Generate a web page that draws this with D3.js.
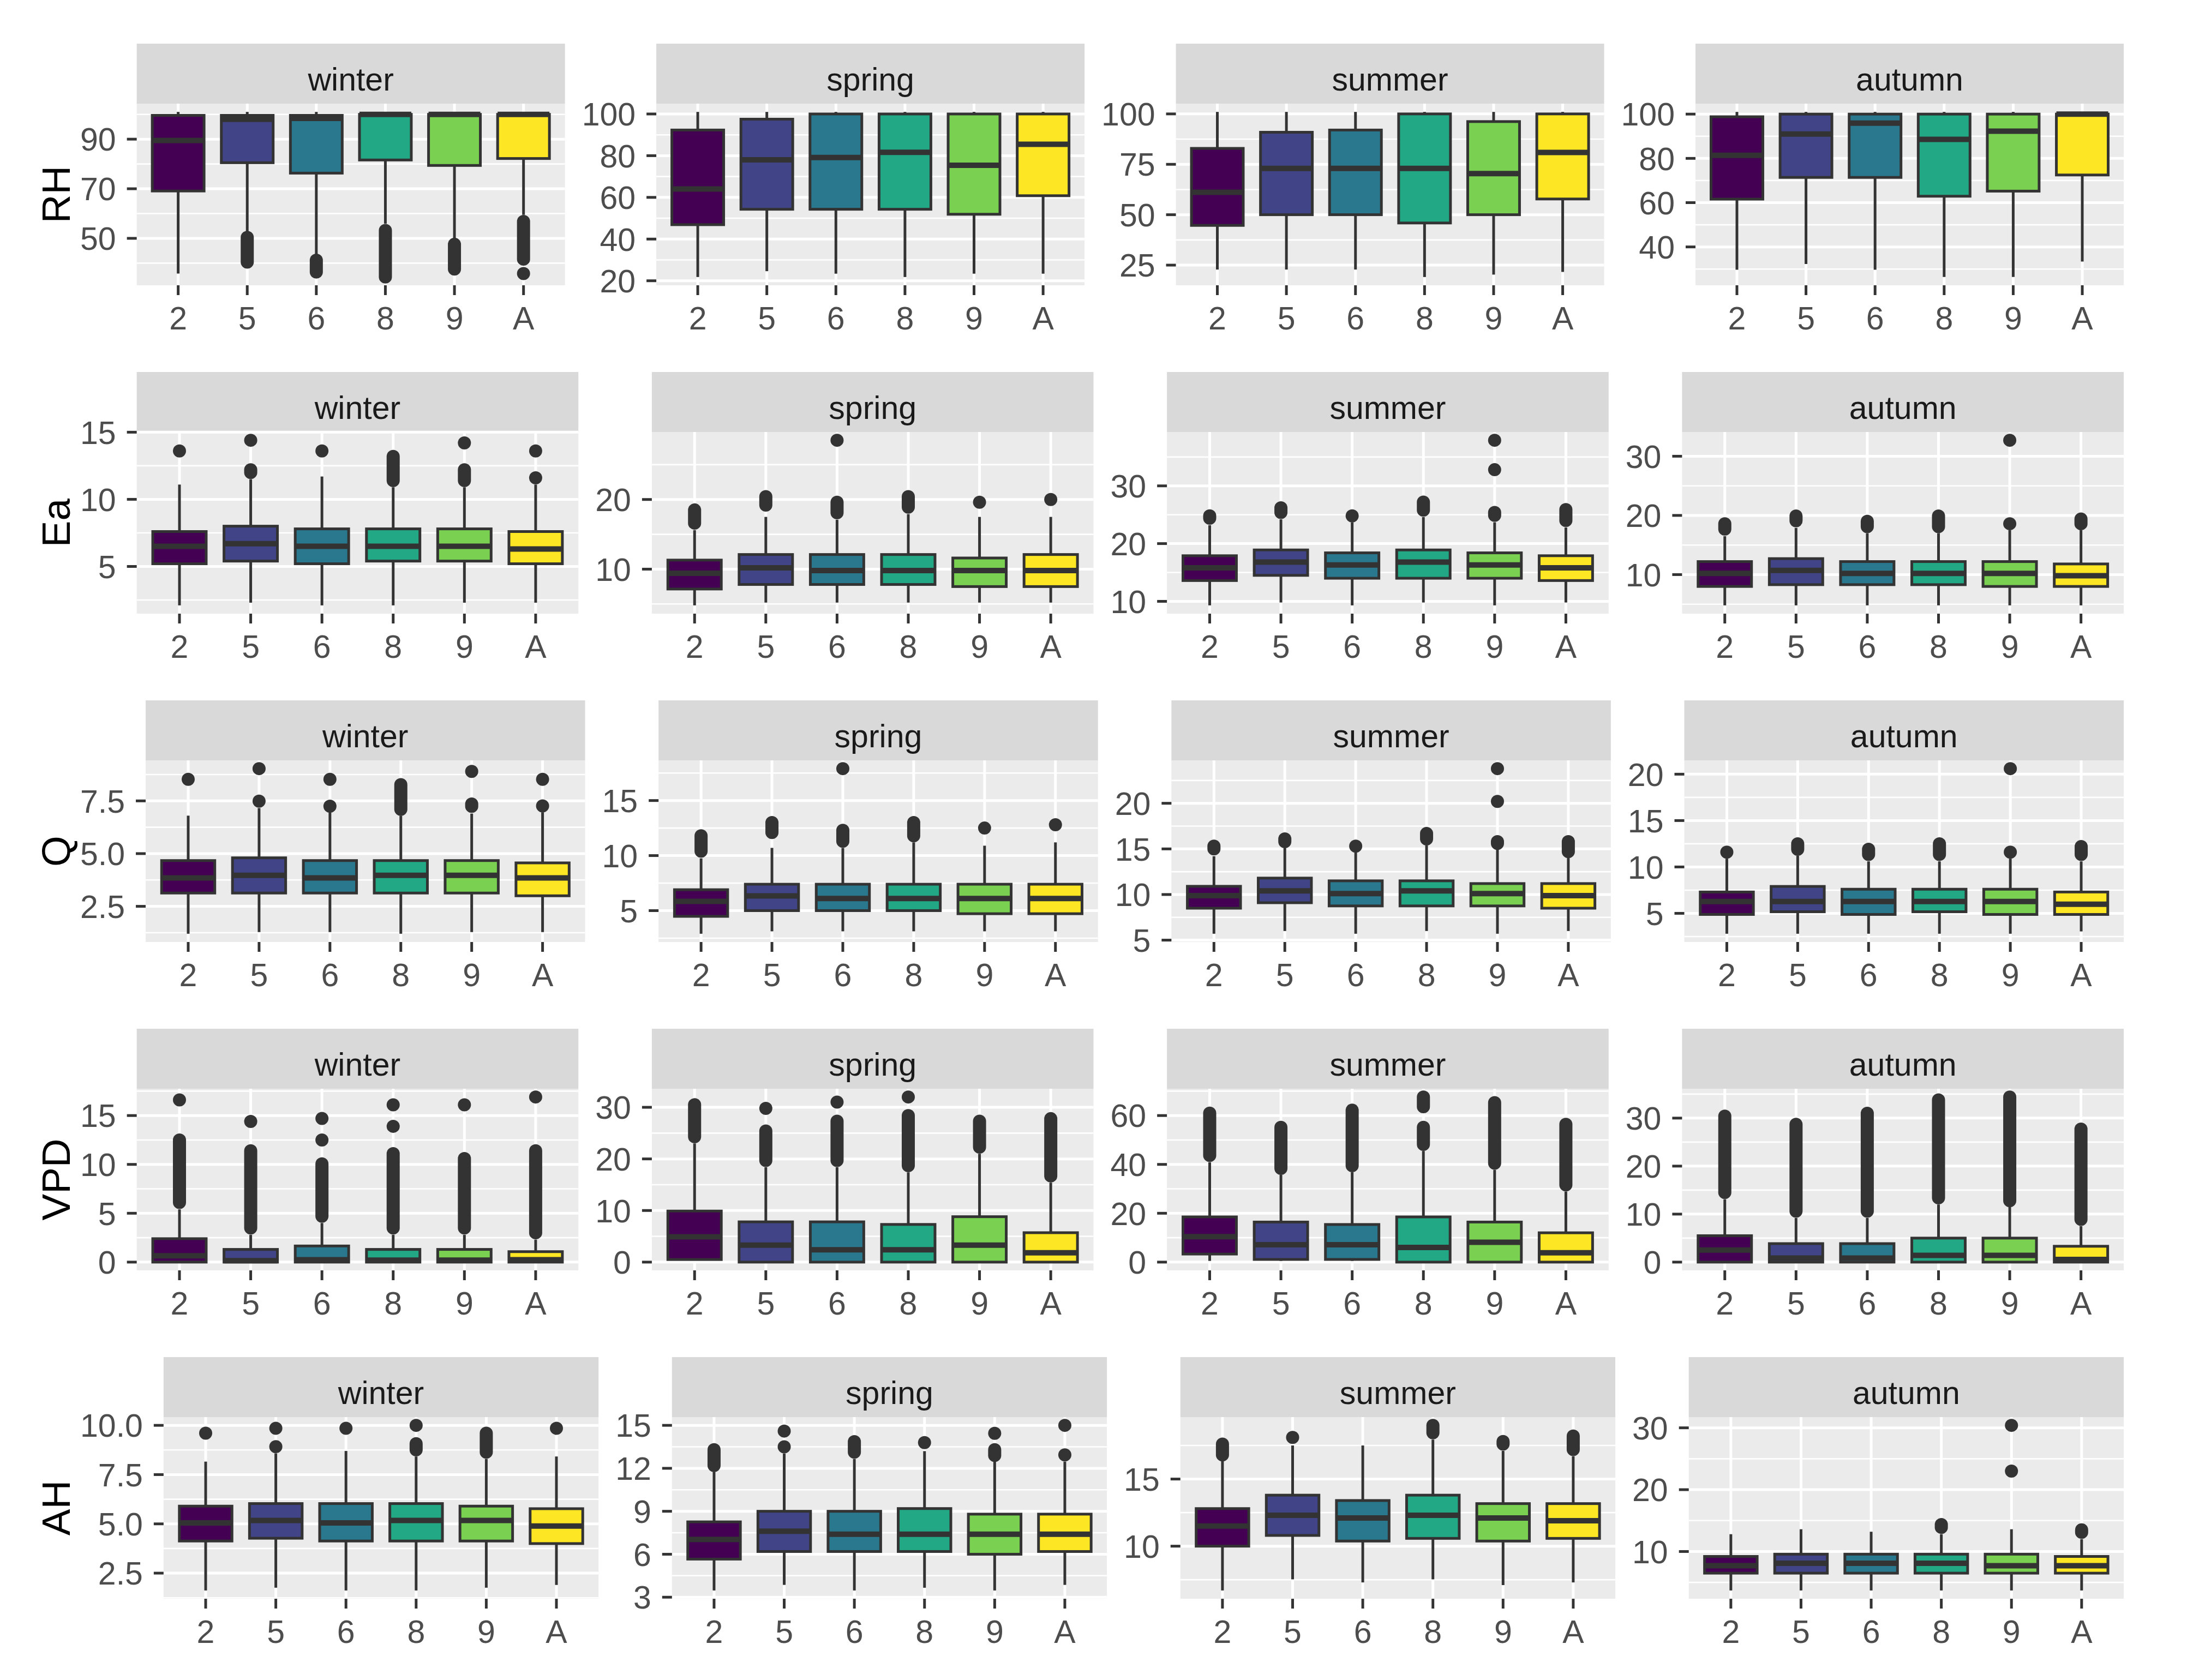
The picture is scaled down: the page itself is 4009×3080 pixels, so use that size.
<!DOCTYPE html>
<html><head><meta charset="utf-8">
<script src="https://cdn.jsdelivr.net/npm/d3@7"></script>
<style>body{margin:0;background:#fff} svg{display:block}</style>
</head><body>
<svg id="chart" width="4009" height="3080"></svg>
<script>
const seasons = ["winter","spring","summer","autumn"];
const sites = ["2","5","6","8","9","A"];
const variables = ["RH","Ea","Q","VPD","AH"];
const siteColors = ["#440154","#414487","#2A788E","#22A884","#7AD151","#FDE725"];

// Box statistics per season (winter, spring, summer, autumn), per site (2,5,6,8,9,A):
// [lower whisker, Q1, median, Q3, upper whisker]
const RH_stats = [
 [[35.8,69.1,89.5,99.6,101],[52.5,80.5,98.0,99.6,101],[43.5,76.3,98.4,99.6,101],[55.9,81.6,100,100,101],[50.2,79.4,100,100,101],[59.5,82.2,100,100,101]],
 [[21.8,46.9,64.0,92.3,101],[24.6,54.3,78.0,97.5,101],[23.4,54.3,79.1,100,101],[21.8,54.3,81.6,100,101],[23.4,51.9,75.4,100,101],[23.4,60.8,85.5,100,101]],
 [[22.8,44.7,61.1,82.9,101],[22.8,50.0,73.0,90.9,101],[22.8,50.0,73.0,92.0,101],[19.1,45.9,73.0,100,101],[20.3,50.0,70.4,96.2,101],[21.6,57.8,80.9,100,101]],
 [[29.7,61.6,81.4,98.8,101],[32.3,71.4,91.0,100,101],[29.7,71.4,95.9,100,101],[26.4,62.9,88.6,100,101],[26.4,65.2,92.3,100,101],[33.4,72.5,100,100,101]]
];
// Outliers: a number is a single point, a pair [high, low] is a dense run of points
const RH_outliers = [
 [[],[[50.4,40.4]],[[41.2,36.4]],[[53.2,34.4]],[[47.6,37.6]],[[56.8,41.6],35.8]],
 [[],[],[],[],[],[]],
 [[],[],[],[],[],[]],
 [[],[],[],[],[],[]]
];
const RH_ticks = [["50","70","90"],["20","40","60","80","100"],["25","50","75","100"],["40","60","80","100"]];

const Ea_stats = [
 [[2.1,5.2,6.5,7.6,11.1],[2.3,5.4,6.7,8.0,11.5],[2.1,5.2,6.5,7.8,11.7],[2.1,5.4,6.5,7.8,10.9],[2.3,5.4,6.5,7.8,10.9],[2.3,5.2,6.3,7.6,11.1]],
 [[4.8,7.15,9.4,11.3,15.6],[5.2,7.8,10.2,12.1,17.5],[5.2,7.8,9.8,12.1,17.1],[5.2,7.8,9.8,12.1,17.9],[5.2,7.5,9.8,11.6,17.5],[5.2,7.5,9.8,12.1,17.5]],
 [[9.3,13.6,15.8,17.9,23.2],[9.8,14.5,16.8,18.9,24.2],[9.3,14.0,16.3,18.4,23.7],[9.8,14.0,16.8,18.9,24.6],[9.3,14.0,16.3,18.4,23.7],[9.8,13.6,15.8,17.9,22.8]],
 [[4.8,8.0,10.2,12.2,16.5],[4.8,8.3,10.7,12.7,17.9],[4.8,8.3,10.2,12.2,17.0],[4.8,8.3,10.2,12.2,17.0],[4.8,8.0,10.2,12.2,17.5],[4.8,8.0,9.8,11.8,17.5]]
];
const Ea_outliers = [
 [[13.6],[[12.2,12.0],14.4],[13.6],[[13.2,11.4]],[[12.2,11.4],14.2],[11.6,13.6]],
 [[[18.5,16.6]],[[20.4,19.2]],[[19.6,18.1],28.5],[[20.4,18.9]],[19.6],[20.0]],
 [[[24.8,24.4]],[[26.2,25.4]],[24.8],[[27.2,25.8]],[[25.4,24.9],32.8,37.9],[[25.9,24.0]]],
 [[[18.6,17.7]],[[19.9,19.1]],[[19.0,18.1]],[[19.9,18.1]],[18.6,32.7],[[19.4,18.6]]]
];
const Ea_ticks = [["5","10","15"],["10","20"],["10","20","30"],["10","20","30"]];

const Q_stats = [
 [[1.2,3.13,3.85,4.67,6.8],[1.28,3.13,3.97,4.8,7.16],[1.28,3.13,3.85,4.67,6.96],[1.2,3.13,3.97,4.67,6.8],[1.28,3.13,3.97,4.67,6.9],[1.28,3.0,3.85,4.56,6.96]],
 [[2.9,4.48,5.84,6.9,9.75],[3.12,5.0,6.34,7.4,10.7],[3.12,5.0,6.1,7.4,10.7],[3.12,5.0,6.1,7.4,11.2],[3.12,4.72,6.1,7.4,10.9],[3.12,4.72,6.1,7.4,11.2]],
 [[5.7,8.5,9.87,10.9,14.2],[6.0,9.1,10.4,11.8,15.1],[5.7,8.75,10.1,11.5,14.6],[6.0,8.75,10.4,11.5,15.4],[5.7,8.75,10.1,11.2,14.9],[6.0,8.5,9.87,11.2,14.0]],
 [[2.8,4.88,6.27,7.3,10.9],[2.8,5.17,6.27,7.9,11.2],[2.8,4.88,6.27,7.6,10.6],[2.8,5.17,6.27,7.6,10.6],[2.8,4.88,6.27,7.6,10.9],[3.05,4.88,5.98,7.3,10.6]]
];
const Q_outliers = [
 [[8.52],[7.49,9.03],[7.25,8.52],[[8.27,7.1]],[[7.35,7.24],8.9],[7.26,8.52]],
 [[[11.8,10.4]],[[13.0,12.1]],[[12.3,11.3],17.9],[[13.0,11.8]],[12.5],[12.8]],
 [[[15.3,15.0]],[[16.1,15.8]],[15.3],[[16.7,16.1]],[[15.8,15.6],20.2,23.8],[[15.8,14.7]]],
 [[11.6],[[12.5,11.9]],[[11.9,11.35]],[[12.5,11.35]],[11.6,20.6],[[12.2,11.35]]]
];
const Q_ticks = [["2.5","5.0","7.5"],["5","10","15"],["5","10","15","20"],["5","10","15","20"]];

const VPD_stats = [
 [[0,0,0.65,2.4,5.4],[0,0,0.15,1.3,2.8],[0,0,0.24,1.65,4.0],[0,0,0.2,1.3,2.8],[0,0,0.2,1.3,2.8],[0,0,0.24,1.07,2.3]],
 [[0.3,0.5,4.9,9.9,23.0],[0,0,3.3,7.8,18.4],[0,0,2.4,7.8,18.4],[0,0,2.4,7.3,17.4],[0,0,3.3,8.8,21.0],[0,0,1.8,5.7,15.4]],
 [[0.5,3.3,10.4,18.5,40.9],[0.5,1.1,7.1,16.4,35.7],[0.5,1.1,7.1,15.4,36.8],[0,0,6.0,18.5,45.5],[0,0,8.1,16.4,37.8],[0,0,3.8,12.0,28.9]],
 [[0,0,2.5,5.5,13.1],[0,0,0.85,3.85,9.2],[0,0,0.85,3.85,9.2],[0,0,1.4,5.0,12.0],[0,0,1.4,5.0,11.5],[0,0,0.55,3.3,7.5]]
];
const VPD_outliers = [
 [[[12.5,6.1],16.6],[[11.4,3.5],14.4],[[10.05,4.7],12.5,14.7],[[11.1,3.5],13.9,16.1],[[10.6,3.5],16.1],[[11.4,3.0],16.9]],
 [[[30.5,24.3]],[[25.4,19.7],29.8],[[27.3,19.7],31.0],[[28.4,18.7],32.0],[[27.3,22.3]],[[27.8,16.7]]],
 [[[61.0,43.7]],[[55.2,38.4]],[[62.2,39.5]],[[67.6,63.6],[55.2,48.2]],[[65.3,40.5]],[[56.4,31.6]]],
 [[[30.4,14.5]],[[28.7,10.6]],[[31.0,10.6]],[[33.8,13.4]],[[34.4,12.8]],[[27.7,8.9]]]
];
const VPD_ticks = [["0","5","10","15"],["0","10","20","30"],["0","20","40","60"],["0","10","20","30"]];

const AH_stats = [
 [[1.62,4.13,5.05,5.9,8.16],[1.76,4.27,5.17,6.03,8.58],[1.62,4.13,5.05,6.03,8.7],[1.62,4.13,5.17,6.03,8.42],[1.76,4.13,5.17,5.9,8.3],[1.9,4.0,4.89,5.77,8.42]],
 [[3.47,5.66,7.04,8.26,11.76],[3.86,6.19,7.61,9.0,13.04],[3.47,6.19,7.4,9.0,12.66],[3.66,6.19,7.4,9.19,13.2],[3.47,6.0,7.4,8.8,12.47],[3.86,6.19,7.4,8.8,12.47]],
 [[6.7,10.0,11.5,12.8,16.33],[7.53,10.8,12.3,13.8,17.5],[7.3,10.38,12.1,13.4,17.5],[7.53,10.58,12.3,13.8,17.94],[7.1,10.38,12.1,13.17,17.1],[7.3,10.58,11.9,13.17,16.7]],
 [[3.7,6.5,7.7,9.2,12.8],[3.7,6.5,8.1,9.57,13.6],[3.7,6.5,8.1,9.57,13.2],[3.7,6.5,8.1,9.57,12.8],[3.7,6.5,7.7,9.57,13.6],[3.7,6.5,7.7,9.2,12.0]]
];
const AH_outliers = [
 [[9.6],[8.92,9.85],[9.85],[[9.07,8.76],10.0],[[9.6,8.64]],[9.85]],
 [[[13.3,12.2]],[13.5,14.6],[[13.86,13.13]],[13.8],[[13.3,12.9],14.44],[12.94,15.0]],
 [[[17.6,16.8]],[18.1],[],[[19.0,18.45]],[[17.8,17.6]],[[18.2,17.2]]],
 [[],[],[],[[14.36,13.9]],[23.0,30.4],[[13.5,13.1]]]
];
const AH_ticks = [["2.5","5.0","7.5","10.0"],["3","6","9","12","15"],["10","15"],["10","20","30"]];

// ---- assemble rows from the arrays ----
const rowStats = [RH_stats, Ea_stats, Q_stats, VPD_stats, AH_stats];
const rowOutliers = [RH_outliers, Ea_outliers, Q_outliers, VPD_outliers, AH_outliers];
const rowTicks = [RH_ticks, Ea_ticks, Q_ticks, VPD_ticks, AH_ticks];

// ---- layout / style ----
const RIGHT_EDGE = 3893;
const LABEL_LEFT = 147;
const TITLE_BASE_X = 128;
const TICK_LEN = 18, TICK_PAD = 20, PANEL_GAP = 31;
const ROW_TOP0 = 80, ROW_PITCH = 602, STRIP_H = 110, PANEL_H = 333;
const AXIS_FS = 59, TITLE_FS = 73;
const FONT = "'Liberation Sans', Arial, Helvetica, sans-serif";
const INK = "#333333";

const svg = d3.select("#chart");
svg.append("rect").attr("width",4009).attr("height",3080).attr("fill","#fff");

const meas = svg.append("text").attr("font-family",FONT).attr("font-size",AXIS_FS).attr("visibility","hidden");
function textW(s){ meas.text(s); return meas.node().getComputedTextLength(); }

variables.forEach((vname, ri) => {
  const stripTop = ROW_TOP0 + ri*ROW_PITCH;
  const pTop = stripTop + STRIP_H, pBot = pTop + PANEL_H;
  const ticksRow = rowTicks[ri];
  const extras = ticksRow.map(tk => d3.max(tk, textW) + TICK_PAD + TICK_LEN);
  const W = (RIGHT_EDGE - LABEL_LEFT - d3.sum(extras) - 3*PANEL_GAP)/4;

  // y title
  svg.append("text")
    .attr("transform", `translate(${TITLE_BASE_X},${pTop + PANEL_H/2}) rotate(-90)`)
    .attr("text-anchor","middle")
    .attr("font-family",FONT).attr("font-size",TITLE_FS).attr("fill","#000")
    .text(vname);

  let x0 = LABEL_LEFT;
  seasons.forEach((season, si) => {
    const left = x0 + extras[si];
    x0 = left + W + PANEL_GAP;
    const stats = rowStats[ri][si];
    const outs = rowOutliers[ri][si];
    const ticks = ticksRow[si].map(Number);

    // domain from data, 5% expansion like ggplot
    const vals = [];
    stats.forEach(s => { vals.push(s[0], s[4]); });
    outs.forEach(list => list.forEach(o => { if (Array.isArray(o)) vals.push(o[0], o[1]); else vals.push(o); }));
    const lo = d3.min(vals), hi = d3.max(vals), r = hi - lo;
    const y = d3.scaleLinear().domain([lo - 0.05*r, hi + 0.05*r]).range([pBot, pTop]);
    const x = d3.scalePoint().domain(sites).range([left, left + W]).padding(0.6);
    const bw = x.step()*0.75;

    const g = svg.append("g");
    // strip
    g.append("rect").attr("x",left).attr("y",stripTop).attr("width",W).attr("height",STRIP_H).attr("fill","#D9D9D9");
    g.append("text").attr("x",left + W/2).attr("y",stripTop + 86)
      .attr("text-anchor","middle").attr("font-family",FONT).attr("font-size",AXIS_FS).attr("fill","#1A1A1A")
      .text(season);
    // panel bg
    g.append("rect").attr("x",left).attr("y",pTop).attr("width",W).attr("height",PANEL_H).attr("fill","#EBEBEB");
    // minor grid
    const step = ticks.length > 1 ? ticks[1]-ticks[0] : 1;
    const [d0, d1] = y.domain();
    const minors = [];
    for (let m = ticks[0] - step/2; m <= d1; m += step) if (m >= d0) minors.push(m);
    for (let m = ticks[0] - step*1.5; m >= d0; m -= step) minors.push(m);
    g.selectAll(null).data(minors).enter().append("line")
      .attr("x1",left).attr("x2",left+W).attr("y1",d=>y(d)).attr("y2",d=>y(d))
      .attr("stroke","#fff").attr("stroke-width",2.6);
    g.selectAll(null).data(ticks).enter().append("line")
      .attr("x1",left).attr("x2",left+W).attr("y1",d=>y(d)).attr("y2",d=>y(d))
      .attr("stroke","#fff").attr("stroke-width",5);
    g.selectAll(null).data(sites).enter().append("line")
      .attr("x1",d=>x(d)).attr("x2",d=>x(d)).attr("y1",pTop).attr("y2",pBot)
      .attr("stroke","#fff").attr("stroke-width",5);

    // boxplots
    sites.forEach((site, k) => {
      const cx = x(site);
      const [lw, q1, med, q3, uw] = stats[k];
      const bg = g.append("g");
      outs[k].forEach(o => {
        if (Array.isArray(o)) {
          bg.append("line").attr("x1",cx).attr("x2",cx).attr("y1",y(o[0])).attr("y2",y(o[1]))
            .attr("stroke",INK).attr("stroke-width",24).attr("stroke-linecap","round");
        } else {
          bg.append("circle").attr("cx",cx).attr("cy",y(o)).attr("r",12).attr("fill",INK);
        }
      });
      bg.append("line").attr("x1",cx).attr("x2",cx).attr("y1",y(uw)).attr("y2",y(q3)).attr("stroke",INK).attr("stroke-width",5);
      bg.append("line").attr("x1",cx).attr("x2",cx).attr("y1",y(q1)).attr("y2",y(lw)).attr("stroke",INK).attr("stroke-width",5);
      bg.append("rect").attr("x",cx-bw/2).attr("width",bw).attr("y",y(q3)).attr("height",Math.max(0,y(q1)-y(q3)))
        .attr("fill",siteColors[k]).attr("stroke",INK).attr("stroke-width",5);
      bg.append("line").attr("x1",cx-bw/2).attr("x2",cx+bw/2).attr("y1",y(med)).attr("y2",y(med))
        .attr("stroke",INK).attr("stroke-width",10);
    });

    // y axis
    g.selectAll(null).data(ticks).enter().append("line")
      .attr("x1",left-TICK_LEN).attr("x2",left).attr("y1",d=>y(d)).attr("y2",d=>y(d))
      .attr("stroke",INK).attr("stroke-width",5);
    g.selectAll(null).data(ticksRow[si]).enter().append("text")
      .attr("x",left-TICK_LEN-TICK_PAD).attr("y",d=>y(+d)).attr("dy","0.36em")
      .attr("text-anchor","end").attr("font-family",FONT).attr("font-size",AXIS_FS).attr("fill","#4D4D4D")
      .text(d=>d);
    // x axis
    g.selectAll(null).data(sites).enter().append("line")
      .attr("x1",d=>x(d)).attr("x2",d=>x(d)).attr("y1",pBot).attr("y2",pBot+TICK_LEN)
      .attr("stroke",INK).attr("stroke-width",5);
    g.selectAll(null).data(sites).enter().append("text")
      .attr("x",d=>x(d)).attr("y",pBot+81)
      .attr("text-anchor","middle").attr("font-family",FONT).attr("font-size",AXIS_FS).attr("fill","#4D4D4D")
      .text(d=>d);
  });
});
meas.remove();
</script>
</body></html>
